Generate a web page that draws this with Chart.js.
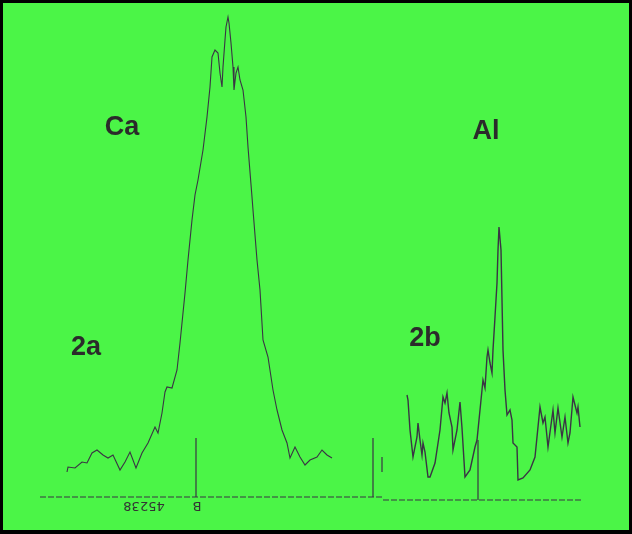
<!DOCTYPE html>
<html>
<head>
<meta charset="utf-8">
<script src="https://cdn.jsdelivr.net/npm/chart.js@4.4.0/dist/chart.umd.min.js"></script>
<style>
  html, body { margin: 0; padding: 0; background: #000; }
  #wrap { width: 632px; height: 534px; }
</style>
</head>
<body>
<div id="wrap"><canvas id="spec" width="632" height="534"></canvas></div>
<script>
// Ca trace (2a): channel / intensity above baseline
const caX = [67,68,75,82,87,92,97,103,108,113,120,125,130,136,142,148,155,158,162,165,167,172,177,180,183,185,188,192,195,198,203,207,210,212,215,218,220,222,223,225,226,228,229,231,233,234,236,238,240,243,246,248,252,253,257,260,263,268,273,277,282,287,290,295,300,305,310,317,322,327,332];
const caY = [25,30,29,35,34,44,47,42,39,42,27,35,45,29,44,54,70,64,84,105,110,109,127,154,184,204,237,277,302,317,347,380,410,440,447,444,424,410,430,457,470,480,474,454,430,407,424,430,417,407,380,350,300,287,237,207,157,140,107,87,67,54,39,50,40,32,37,40,47,42,39];

// Al trace (2b)
const alX = [407,408,410,413,417,418,420,422,423,425,428,430,435,440,443,445,447,449,452,453,457,460,462,465,470,475,477,480,482,483,485,487,488,490,492,493,495,497,498,499,501,502,503,505,507,510,512,513,517,518,523,530,535,540,543,545,548,553,555,558,562,565,568,570,573,577,578,580];
const alY = [102,97,67,40,60,74,57,42,54,45,20,20,34,67,100,94,104,84,70,47,67,95,69,20,27,50,57,87,107,117,109,140,147,134,124,147,180,214,247,270,247,197,147,107,82,87,77,54,50,17,19,27,40,90,74,80,50,87,64,89,60,80,54,64,100,84,90,70];

// baselines (x range, level)
const caBase = [40, 383];
const alBase = [383, 582];
const caBaseLevel = 0;
const alBaseLevel = -3;

// vertical marker lines: x, bottom, top
const markerX = [196, 373, 382, 478];
const markerLo = [0, 0, 25, -3];
const markerHi = [59, 59, 40, 57];

// labels: text, x, y (data units)
const labelText = ['Ca', 'Al', '2a', '2b'];
const labelX = [122, 486, 86, 425];
const labelY = [369, 365, 149, 158];

const INK = '#3a3444';

function segment(x0, x1, y0, y1, dash) {
  return {
    data: [{ x: x0, y: y0 }, { x: x1, y: y1 }],
    borderColor: INK,
    borderWidth: 1.2,
    borderDash: dash || [],
    pointRadius: 0,
    tension: 0
  };
}

const datasets = [
  {
    data: caX.map((x, i) => ({ x: x, y: caY[i] })),
    borderColor: INK, borderWidth: 1.1, pointRadius: 0, tension: 0
  },
  {
    data: alX.map((x, i) => ({ x: x, y: alY[i] })),
    borderColor: INK, borderWidth: 1.4, pointRadius: 0, tension: 0
  },
  segment(caBase[0], caBase[1], caBaseLevel, caBaseLevel, [6, 2]),
  segment(alBase[0], alBase[1], alBaseLevel, alBaseLevel, [6, 2])
];
markerX.forEach((x, i) => datasets.push(segment(x, x, markerLo[i], markerHi[i])));

// frame + background + text
const decor = {
  id: 'decor',
  beforeDraw(chart) {
    const c = chart.ctx;
    c.save();
    c.fillStyle = '#000';
    c.fillRect(0, 0, chart.width, chart.height);
    c.fillStyle = '#4bf547';
    c.fillRect(3, 3, chart.width - 6, chart.height - 7);
    c.restore();
  },
  afterDatasetsDraw(chart) {
    const c = chart.ctx;
    const sx = chart.scales.x, sy = chart.scales.y;
    c.save();
    c.fillStyle = '#2b2b2b';
    c.font = 'bold 27px "Liberation Sans", Arial, sans-serif';
    c.textAlign = 'center';
    c.textBaseline = 'middle';
    labelText.forEach((t, i) => {
      c.fillText(t, sx.getPixelForValue(labelX[i]), sy.getPixelForValue(labelY[i]));
    });
    // upside-down plate number under the baseline
    c.font = '13px "DejaVu Sans", sans-serif';
    c.fillStyle = '#333';
    [['45238', 144], ['B', 197]].forEach(([t, x]) => {
      c.save();
      c.translate(sx.getPixelForValue(x), sy.getPixelForValue(-8));
      c.rotate(Math.PI);
      c.fillText(t, 0, 0);
      c.restore();
    });
    c.restore();
  }
};

new Chart(document.getElementById('spec'), {
  type: 'line',
  data: { datasets: datasets },
  options: {
    responsive: false,
    animation: false,
    layout: { padding: 0 },
    plugins: { legend: { display: false }, tooltip: { enabled: false } },
    scales: {
      x: { type: 'linear', min: 0, max: 632, display: false },
      y: { type: 'linear', min: -37, max: 497, display: false }
    }
  },
  plugins: [decor]
});
</script>
</body>
</html>
